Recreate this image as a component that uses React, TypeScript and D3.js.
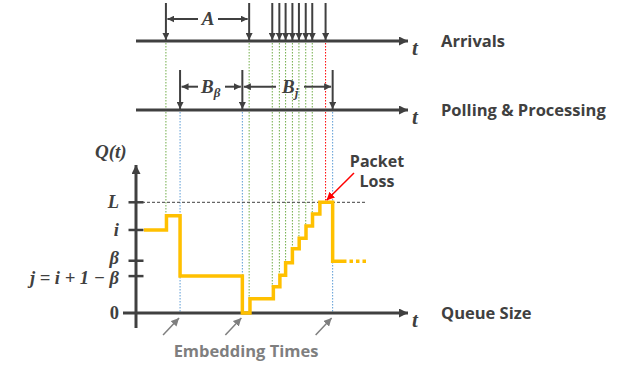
import * as d3 from "d3";

// times in arbitrary units along the shared time axis
const arrivalTimes = [11.0, 41.6, 50.1, 52.7, 55.0, 57.5, 59.9, 62.4, 64.8];
const lossTime = 69.7;
const pollTimes = [16.2, 39.1, 72.3];

// queue size steps (time, level), level L = 9
const queueTimes = [2.9, 11.2, 16.2, 39.1, 41.9, 50.5, 52.9, 55.0, 57.5, 60.0, 62.5, 64.9, 67.6, 72.3];
const queueLevels = [6.75, 7.9, 3.0, 0, 1.16, 2.14, 3.07, 4.09, 5.23, 6.07, 7.07, 8.05, 9, 4.2];
const queueSolidEnd = 76.1;
const queueDottedEnd = 84.6;

const yTickLabels = ["L", "i", "β", "j = i + 1 − β", "0"];
const yTickValues = [9, 6.75, 4.25, 3.0, 0];

const rowLabels = ["Arrivals", "Polling & Processing", "Queue Size"];

const W = 627;
const H = 367;
const dark = "#404040";
const green = "#70AD47";
const blue = "#5B9BD5";
const orange = "#FFC000";
const mathFont = "'Liberation Serif', serif";
const textFont = "'Open Sans', sans-serif";

export default function App() {
  const x = d3.scaleLinear().domain([0, 100]).range([136, 408]);
  const y = d3.scaleLinear().domain([0, 9]).range([313, 202.3]);

  const arrY = 41;
  const pollY = 110;
  const axisEnd = x(100);

  const steps: [number, number][] = queueTimes.map((t, k) => [t, queueLevels[k]]);
  steps.push([queueSolidEnd, queueLevels[queueLevels.length - 1]]);
  const line = d3
    .line<[number, number]>()
    .x((d) => x(d[0]))
    .y((d) => y(d[1]))
    .curve(d3.curveStepAfter);

  const levelAfter = (t: number) => {
    let best = 0;
    queueTimes.forEach((qt, k) => {
      if (Math.abs(qt - t) < Math.abs(queueTimes[best] - t)) best = k;
    });
    return queueLevels[best];
  };

  const lastLevel = queueLevels[queueLevels.length - 1];

  // small offsets so the two β labels do not collide
  const labelShift = (s: string) => (s === "β" ? 3.5 : s.startsWith("j") ? 8 : 6);

  const dimArrow = (x0: number, x1: number, yy: number, gap0: number, gap1: number, key: string) => (
    <g key={key}>
      <line x1={gap0} y1={yy} x2={x0 + 1.5} y2={yy} stroke={dark} strokeWidth={2} markerEnd="url(#headS)" />
      <line x1={gap1} y1={yy} x2={x1 - 1.5} y2={yy} stroke={dark} strokeWidth={2} markerEnd="url(#headS)" />
    </g>
  );

  return (
    <svg width={W} height={H} style={{ position: "absolute", left: 0, top: 0, background: "#fff" }}>
      <defs>
        <marker id="headS" viewBox="0 0 10 10" refX={10} refY={5} markerWidth={7} markerHeight={7} markerUnits="userSpaceOnUse" orient="auto">
          <path d="M0,0 L10,5 L0,10 z" fill={dark} />
        </marker>
        <marker id="headV" viewBox="0 0 10 10" refX={10} refY={5} markerWidth={7} markerHeight={7} markerUnits="userSpaceOnUse" orient="auto">
          <path d="M0,0 L10,5 L0,10 z" fill={dark} />
        </marker>
        <marker id="headL" viewBox="0 0 10 10" refX={10} refY={5} markerWidth={9} markerHeight={9} markerUnits="userSpaceOnUse" orient="auto">
          <path d="M0,0 L10,5 L0,10 z" fill={dark} />
        </marker>
        <marker id="headR" viewBox="0 0 10 10" refX={10} refY={5} markerWidth={8} markerHeight={8} markerUnits="userSpaceOnUse" orient="auto">
          <path d="M0,0 L10,5 L0,10 z" fill="#FF0000" />
        </marker>
        <marker id="headG" viewBox="0 0 10 10" refX={10} refY={5} markerWidth={8} markerHeight={8} markerUnits="userSpaceOnUse" orient="auto">
          <path d="M0,0 L10,5 L0,10 z" fill="#7F7F7F" />
        </marker>
      </defs>

      {/* green dotted guides from arrivals */}
      {arrivalTimes.map((t, k) => (
        <line key={"g" + k} x1={x(t)} x2={x(t)} y1={arrY + 2} y2={y(levelAfter(t))} stroke={green} strokeWidth={1} strokeDasharray="1.5,1.5" />
      ))}
      <line x1={x(lossTime)} x2={x(lossTime)} y1={arrY + 2} y2={y(9)} stroke="#FF0000" strokeWidth={1} strokeDasharray="1.5,1.5" />
      {/* blue dotted guides from polling */}
      {pollTimes.map((t, k) => (
        <line key={"b" + k} x1={x(t)} x2={x(t)} y1={pollY + 2} y2={y(0)} stroke={blue} strokeWidth={1} strokeDasharray="1.5,1.5" />
      ))}

      {/* L dashed level */}
      <line x1={x(0) + 6} x2={x(84.6)} y1={y(9)} y2={y(9)} stroke={dark} strokeWidth={1} strokeDasharray="3,2" />

      {/* arrivals row */}
      <line x1={x(0)} x2={axisEnd} y1={arrY} y2={arrY} stroke={dark} strokeWidth={3} markerEnd="url(#headL)" />
      {[...arrivalTimes, lossTime].map((t, k) => (
        <line key={"a" + k} x1={x(t)} x2={x(t)} y1={3} y2={arrY - 1} stroke={dark} strokeWidth={2} markerEnd="url(#headV)" />
      ))}
      {dimArrow(x(arrivalTimes[0]), x(arrivalTimes[1]), 19, 198, 218, "A")}
      <text x={208} y={25} textAnchor="middle" fontFamily={mathFont} fontStyle="italic" fontWeight="bold" fontSize={19} fill={dark}>A</text>

      {/* polling row */}
      <line x1={x(0)} x2={axisEnd} y1={pollY} y2={pollY} stroke={dark} strokeWidth={3} markerEnd="url(#headL)" />
      {pollTimes.map((t, k) => (
        <line key={"p" + k} x1={x(t)} x2={x(t)} y1={70} y2={pollY - 1} stroke={dark} strokeWidth={2} markerEnd="url(#headV)" />
      ))}
      {dimArrow(x(pollTimes[0]), x(pollTimes[1]), 86.7, 198, 225, "Bb")}
      {dimArrow(x(pollTimes[1]), x(pollTimes[2]), 86.7, 276, 304, "Bj")}
      <text x={201} y={93} fontFamily={mathFont} fontStyle="italic" fontWeight="bold" fontSize={19} fill={dark}>
        B<tspan fontSize={13} dy={4}>β</tspan>
      </text>
      <text x={282} y={93} fontFamily={mathFont} fontStyle="italic" fontWeight="bold" fontSize={19} fill={dark}>
        B<tspan fontSize={13} dy={4}>j</tspan>
      </text>

      {/* queue axes */}
      <line x1={123} x2={axisEnd} y1={y(0)} y2={y(0)} stroke={dark} strokeWidth={3} markerEnd="url(#headL)" />
      <line x1={x(0)} x2={x(0)} y1={328} y2={165} stroke={dark} strokeWidth={3} markerEnd="url(#headL)" />
      {yTickValues.map((v, k) => (
        <g key={"t" + k}>
          {v > 0 && <line x1={x(0) - 7.5} x2={x(0) + 7.5} y1={y(v)} y2={y(v)} stroke={dark} strokeWidth={2.5} />}
          <text x={119} y={y(v) + labelShift(yTickLabels[k])} textAnchor="end" fontFamily={mathFont} fontStyle={v > 0 ? "italic" : "normal"} fontWeight="bold" fontSize={18.5} fill={dark}>
            {yTickLabels[k]}
          </text>
        </g>
      ))}
      <text x={95} y={158} fontFamily={mathFont} fontStyle="italic" fontWeight="bold" fontSize={19} fill={dark}>Q(t)</text>

      {/* queue size path */}
      <path d={line(steps) ?? ""} fill="none" stroke={orange} strokeWidth={3.5} />
      <line x1={x(queueSolidEnd)} x2={x(queueDottedEnd)} y1={y(lastLevel)} y2={y(lastLevel)} stroke={orange} strokeWidth={3.5} strokeDasharray="3.5,3" />

      {/* packet loss */}
      <line x1={354} y1={173} x2={x(lossTime) + 1} y2={y(9) - 2} stroke="#FF0000" strokeWidth={1.5} markerEnd="url(#headR)" />
      <text x={377} y={167} textAnchor="middle" fontFamily={textFont} fontWeight="bold" fontSize={16} fill={dark}>Packet</text>
      <text x={377} y={187} textAnchor="middle" fontFamily={textFont} fontWeight="bold" fontSize={16} fill={dark}>Loss</text>

      {/* embedding times */}
      {pollTimes.map((t, k) => (
        <line key={"e" + k} x1={x(t) - 17} y1={335} x2={x(t) - 1} y2={318} stroke="#7F7F7F" strokeWidth={1.5} markerEnd="url(#headG)" />
      ))}
      <text x={246} y={357} textAnchor="middle" fontFamily={textFont} fontWeight="bold" fontSize={16.5} fill="#7F7F7F">Embedding Times</text>

      {/* t labels */}
      {[arrY, pollY, y(0)].map((yy, k) => (
        <text key={"tl" + k} x={412} y={yy + 14} fontFamily={mathFont} fontStyle="italic" fontWeight="bold" fontSize={21} fill={dark}>t</text>
      ))}

      {/* row labels */}
      {[arrY, pollY, y(0)].map((yy, k) => (
        <text key={"r" + k} x={441} y={yy + 6} fontFamily={textFont} fontWeight="bold" fontSize={16.5} fill={dark}>{rowLabels[k]}</text>
      ))}
    </svg>
  );
}
